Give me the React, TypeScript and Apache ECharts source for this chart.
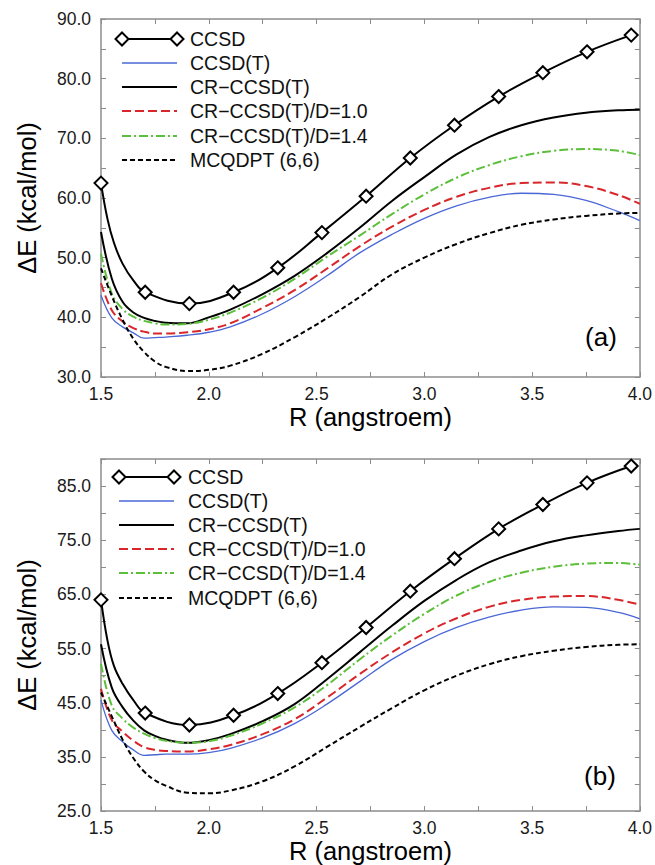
import React, { useEffect, useRef } from "react";
import * as echarts from "echarts";

// ---- data (R in angstroem, energies in kcal/mol) ----
const gridR = [1.5, 1.55, 1.6, 1.65, 1.7, 1.75, 1.8, 1.9, 2.0, 2.1, 2.25, 2.4, 2.55, 2.7, 2.85, 3.0, 3.15, 3.3, 3.45, 3.6, 3.75, 3.9, 4.0];

const ccsdR = [1.5, 1.705, 1.91, 2.115, 2.32, 2.525, 2.73, 2.935, 3.14, 3.345, 3.55, 3.755, 3.96];
const ccsdSteepR = [1.53, 1.56, 1.6, 1.65];

// panel (a)
const ccsdTop = [62.5, 44.2, 42.3, 44.2, 48.3, 54.2, 60.3, 66.7, 72.2, 77.0, 81.0, 84.5, 87.3];
const ccsdSteepTop = [56.5, 52.5, 49.0, 46.2];
const ccsdtTop = [43.7, 39.9, 38.4, 37.4, 36.5, 36.6, 36.7, 37.0, 37.5, 38.4, 40.6, 43.5, 47.0, 50.8, 53.9, 56.6, 58.7, 60.1, 60.8, 60.6, 59.6, 57.7, 56.2];
const crTop = [54.3, 46.5, 42.6, 40.8, 39.9, 39.4, 39.1, 39.0, 40.0, 41.3, 43.9, 47.0, 50.8, 55.0, 59.5, 63.5, 67.3, 70.2, 72.2, 73.5, 74.3, 74.7, 74.8];
const d10Top = [45.7, 41.2, 39.3, 38.2, 37.6, 37.3, 37.3, 37.5, 38.0, 39.0, 41.6, 44.6, 48.2, 51.9, 55.2, 58.0, 60.2, 61.7, 62.5, 62.6, 62.0, 60.5, 59.0];
const d14Top = [50.7, 44.0, 41.4, 40.1, 39.4, 39.0, 38.8, 38.9, 39.6, 40.8, 43.3, 46.5, 50.2, 53.7, 57.3, 60.6, 63.4, 65.5, 67.0, 67.9, 68.2, 67.9, 67.2];
const mcqTop = [48.2, 43.6, 39.6, 36.4, 34.2, 32.6, 31.7, 31.0, 31.2, 31.9, 33.9, 36.7, 39.9, 43.4, 47.2, 50.0, 52.3, 54.1, 55.5, 56.4, 57.0, 57.4, 57.5];

// panel (b)
const ccsdBot = [64.0, 43.1, 40.9, 42.7, 46.7, 52.4, 58.9, 65.6, 71.6, 77.1, 81.6, 85.6, 88.7];
const ccsdSteepBot = [56.5, 51.8, 48.5, 45.5];
const ccsdtBot = [45.5, 39.9, 37.8, 36.3, 35.3, 35.4, 35.5, 35.5, 35.8, 36.6, 38.5, 41.2, 44.8, 48.9, 53.0, 56.3, 58.9, 60.8, 62.1, 62.7, 62.6, 61.7, 60.5];
const crBot = [55.8, 47.8, 44.2, 41.7, 39.9, 38.9, 38.2, 37.6, 38.1, 39.2, 41.6, 44.8, 49.4, 54.3, 59.2, 63.8, 67.7, 70.9, 73.1, 74.8, 75.9, 76.7, 77.1];
const d10Bot = [47.6, 41.8, 39.7, 38.0, 36.8, 36.3, 36.1, 36.0, 36.4, 37.2, 39.2, 42.0, 46.0, 50.3, 54.3, 57.8, 60.6, 62.7, 64.0, 64.6, 64.7, 64.0, 63.1];
const d14Bot = [52.2, 44.5, 42.1, 40.4, 39.3, 38.5, 38.0, 37.6, 37.9, 38.9, 41.2, 44.2, 48.3, 53.0, 57.4, 61.4, 64.8, 67.3, 69.0, 70.1, 70.7, 70.8, 70.5];
const mcqBot = [46.9, 42.5, 38.2, 34.8, 32.3, 30.7, 29.7, 28.4, 28.3, 28.8, 30.5, 33.3, 36.9, 40.5, 44.0, 47.3, 50.0, 52.1, 53.6, 54.6, 55.3, 55.7, 55.8];

const seriesNames = ["CCSD", "CCSD(T)", "CR\u2212CCSD(T)", "CR\u2212CCSD(T)/D=1.0", "CR\u2212CCSD(T)/D=1.4", "MCQDPT (6,6)"];
const panelLabels = ["(a)", "(b)"];
const xName = "R (angstroem)";
const yName = "\u0394E (kcal/mol)";

// ---- styles ----
const FONT = "'Liberation Sans', Arial, Helvetica, sans-serif";
const BLUE = "#4a67d6";
const RED = "#d8262b";
const GREEN = "#5cbf3a";
const AXIS = "#8c8c8c";

const styles = [
  { color: "#000", width: 2, type: "solid" as any },
  { color: BLUE, width: 1.3, type: "solid" as any },
  { color: "#000", width: 2, type: "solid" as any },
  { color: RED, width: 2, type: [9, 4] as any },
  { color: GREEN, width: 2, type: [9, 3, 2, 3] as any },
  { color: "#000", width: 2, type: [5, 3] as any },
];

const zip = (xs: number[], ys: number[]) => xs.map((x, i) => [x, ys[i]]);

function ccsdData(marks: number[], steep: number[]) {
  const pts: { r: number; e: number; m: boolean }[] = [];
  ccsdR.forEach((r, i) => pts.push({ r, e: marks[i], m: true }));
  ccsdSteepR.forEach((r, i) => pts.push({ r, e: steep[i], m: false }));
  pts.sort((a, b) => a.r - b.r);
  return pts.map((p) => ({ value: [p.r, p.e], symbol: p.m ? "diamond" : "none" }));
}

const xFmt = (v: number) => (Math.abs(v * 2 - Math.round(v * 2)) < 1e-6 ? v.toFixed(1) : "");
const yFmt = (min: number) => (v: number) =>
  Math.abs((v - min) / 10 - Math.round((v - min) / 10)) < 1e-6 ? v.toFixed(1) : "";

const axisLine = { show: true, onZero: false, lineStyle: { color: AXIS, width: 1.5 } };
const axisTick = { show: true, inside: true, length: 5, lineStyle: { color: AXIS, width: 1 } };
const labelStyle = { color: "#1a1a1a", fontSize: 17.5, fontFamily: FONT };
const nameStyle = { color: "#000", fontSize: 25.5, fontFamily: FONT };

function legendGraphics(x0: number, x1: number, tx: number, ys: number[]) {
  const els: any[] = [];
  const diamond = (cx: number, cy: number) => ({
    type: "polygon",
    shape: { points: [[cx, cy - 6.5], [cx + 6.5, cy], [cx, cy + 6.5], [cx - 6.5, cy]] },
    style: { fill: "#fff", stroke: "#000", lineWidth: 2 },
    z: 10,
  });
  ys.forEach((y, i) => {
    const s = styles[i];
    els.push({
      type: "line",
      shape: { x1: x0, y1: y, x2: x1, y2: y },
      style: { stroke: s.color, lineWidth: s.width, lineDash: Array.isArray(s.type) ? s.type : null },
      z: 9,
    });
    if (i === 0) {
      els.push(diamond(x0, y));
      els.push(diamond(x1, y));
    }
    els.push({
      type: "text",
      x: tx,
      y,
      style: { text: seriesNames[i], fontSize: 19.5, fontFamily: FONT, fill: "#111", align: "left", verticalAlign: "middle" },
      z: 10,
    });
  });
  return els;
}

function panelSeries(p: number, ccsd: any[], sets: number[][]) {
  const out: any[] = [];
  sets.forEach((vals, k) => {
    const s = styles[k + 1];
    out.push({
      name: seriesNames[k + 1],
      type: "line",
      xAxisIndex: p * 2,
      yAxisIndex: p * 2,
      data: zip(gridR, vals),
      showSymbol: false,
      symbol: "none",
      smooth: 0.4,
      lineStyle: { color: s.color, width: s.width, type: s.type },
      itemStyle: { color: s.color },
      z: 2,
    });
  });
  out.push({
    name: seriesNames[0],
    type: "line",
    xAxisIndex: p * 2,
    yAxisIndex: p * 2,
    data: ccsd,
    symbol: "diamond",
    symbolSize: 13,
    showSymbol: true,
    smooth: 0.4,
    lineStyle: { color: "#000", width: 2 },
    itemStyle: { color: "#fff", borderColor: "#000", borderWidth: 2 },
    z: 5,
  });
  return out;
}

function xAxes(grid: number) {
  return [
    {
      gridIndex: grid,
      type: "value",
      min: 1.5,
      max: 4.0,
      interval: 0.25,
      position: "bottom",
      axisLine,
      axisTick,
      splitLine: { show: false },
      axisLabel: { ...labelStyle, formatter: xFmt, margin: 8 },
      name: xName,
      nameLocation: "middle",
      nameGap: 22,
      nameTextStyle: nameStyle,
    },
    {
      gridIndex: grid,
      type: "value",
      min: 1.5,
      max: 4.0,
      interval: 0.25,
      position: "top",
      axisLine,
      axisTick,
      splitLine: { show: false },
      axisLabel: { show: false },
    },
  ];
}

function yAxes(grid: number, min: number) {
  return [
    {
      gridIndex: grid,
      type: "value",
      min,
      max: 90,
      interval: 5,
      position: "left",
      axisLine,
      axisTick,
      splitLine: { show: false },
      axisLabel: { ...labelStyle, formatter: yFmt(min), margin: 10 },
      name: yName,
      nameLocation: "middle",
      nameGap: 61,
      nameTextStyle: nameStyle,
    },
    {
      gridIndex: grid,
      type: "value",
      min,
      max: 90,
      interval: 5,
      position: "right",
      axisLine,
      axisTick,
      splitLine: { show: false },
      axisLabel: { show: false },
    },
  ];
}

export default function App() {
  const ref = useRef<HTMLDivElement>(null);
  useEffect(() => {
    if (!ref.current) return;
    const chart = echarts.init(ref.current, undefined, { renderer: "svg" });
    const option: any = {
      animation: false,
      backgroundColor: "#fff",
      textStyle: { fontFamily: FONT },
      grid: [
        { left: 101, top: 19, width: 540, height: 358 },
        { left: 101, top: 459, width: 540, height: 359 },
      ],
      xAxis: [...xAxes(0), ...xAxes(1)],
      yAxis: [...yAxes(0, 30), ...yAxes(1, 25)],
      series: [
        ...panelSeries(0, ccsdData(ccsdTop, ccsdSteepTop), [ccsdtTop, crTop, d10Top, d14Top, mcqTop]),
        ...panelSeries(1, ccsdData(ccsdBot, ccsdSteepBot), [ccsdtBot, crBot, d10Bot, d14Bot, mcqBot]),
      ],
      graphic: [
        ...legendGraphics(122, 177, 190, [39, 63, 87, 111, 136, 160]),
        ...legendGraphics(119, 174, 188, [477, 501, 525, 549, 573, 598]),
        {
          type: "text",
          x: 601,
          y: 337,
          style: { text: panelLabels[0], fontSize: 26, fontFamily: FONT, fill: "#000", align: "center", verticalAlign: "middle" },
        },
        {
          type: "text",
          x: 600,
          y: 776,
          style: { text: panelLabels[1], fontSize: 26, fontFamily: FONT, fill: "#000", align: "center", verticalAlign: "middle" },
        },
      ],
    };
    chart.setOption(option);
    return () => chart.dispose();
  }, []);
  return (
    <div
      ref={ref}
      style={{ position: "fixed", left: 0, top: 0, width: 655, height: 865, background: "#fff" }}
    />
  );
}
